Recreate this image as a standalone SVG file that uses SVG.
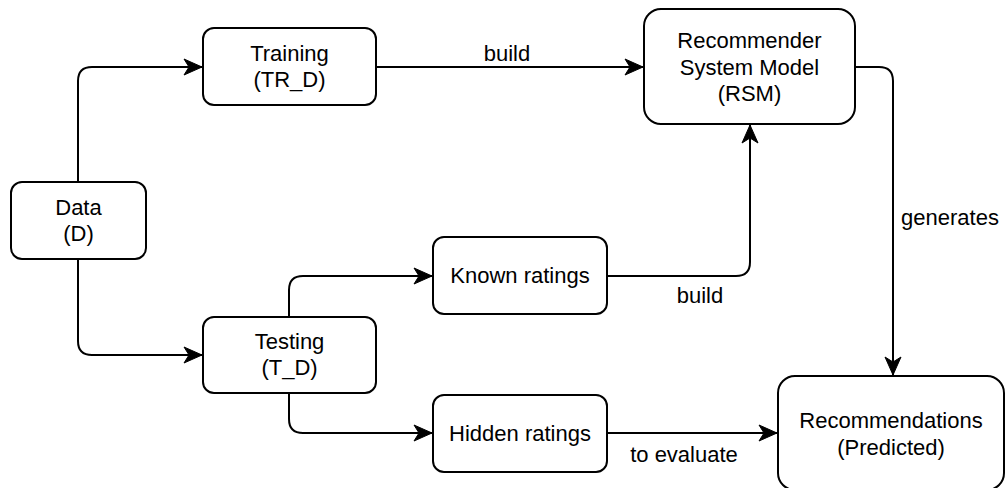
<svg xmlns="http://www.w3.org/2000/svg" width="1007" height="488" viewBox="0 0 1007 488">
  <style>
    .box { fill: #ffffff; stroke: #000000; stroke-width: 2; }
    .edge { fill: none; stroke: #000000; stroke-width: 2; }
    text { font-family: "Liberation Sans", Arial, Helvetica, sans-serif; font-size: 22px; fill: #000000; text-anchor: middle; }
    .lbl { text-anchor: middle; }
  </style>
  <defs>
    <marker id="arrow" markerUnits="userSpaceOnUse" markerWidth="20" markerHeight="18" viewBox="0 0 20 18" refX="19" refY="9" orient="auto">
      <path d="M1,1 L19,9 L1,17 L6,9 Z" fill="#000000" stroke="#000000" stroke-width="1"/>
    </marker>
  </defs>

  <!-- connectors -->
  <g id="connectors">
    <path class="edge" d="M78,182 L78,81 Q78,67 92,67 L202,67" marker-end="url(#arrow)"/>
    <path class="edge" d="M78,259 L78,341 Q78,355 92,355 L202,355" marker-end="url(#arrow)"/>
    <path class="edge" d="M376,67 L643,67" marker-end="url(#arrow)"/>
    <path class="edge" d="M289,317 L289,290 Q289,276 303,276 L432,276" marker-end="url(#arrow)"/>
    <path class="edge" d="M289,393 L289,419 Q289,433 303,433 L432,433" marker-end="url(#arrow)"/>
    <path class="edge" d="M607,276 L736,276 Q750,276 750,262 L750,125" marker-end="url(#arrow)"/>
    <path class="edge" d="M855,67 L879,67 Q893,67 893,81 L893,375" marker-end="url(#arrow)"/>
    <path class="edge" d="M607,433 L777,433" marker-end="url(#arrow)"/>
    <text x="507" y="61">build</text>
    <text x="700" y="303">build</text>
    <text x="684" y="462">to evaluate</text>
    <text x="950" y="225">generates</text>
  </g>

  <!-- nodes -->
  <g id="data">
    <rect class="box" x="11" y="182" width="135" height="77" rx="11"/>
    <text x="78.5" y="215">Data</text>
    <text x="78.5" y="241">(D)</text>
  </g>
  <g id="training">
    <rect class="box" x="203" y="28" width="173" height="77" rx="11"/>
    <text x="289.5" y="61">Training</text>
    <text x="289.5" y="87">(TR_D)</text>
  </g>
  <g id="testing">
    <rect class="box" x="203" y="317" width="173" height="76" rx="11"/>
    <text x="289.5" y="349">Testing</text>
    <text x="289.5" y="375">(T_D)</text>
  </g>
  <g id="known-ratings">
    <rect class="box" x="433" y="237" width="174" height="77" rx="11"/>
    <text x="520" y="283">Known ratings</text>
  </g>
  <g id="hidden-ratings">
    <rect class="box" x="433" y="395" width="174" height="77" rx="11"/>
    <text x="520" y="441">Hidden ratings</text>
  </g>
  <g id="rsm">
    <rect class="box" x="644" y="9" width="211" height="115" rx="17"/>
    <text x="749.5" y="48">Recommender</text>
    <text x="749.5" y="75">System Model</text>
    <text x="749.5" y="101">(RSM)</text>
  </g>
  <g id="recommendations">
    <rect class="box" x="778" y="376" width="226" height="114" rx="17"/>
    <text x="891" y="428">Recommendations</text>
    <text x="891" y="455">(Predicted)</text>
  </g>
</svg>
